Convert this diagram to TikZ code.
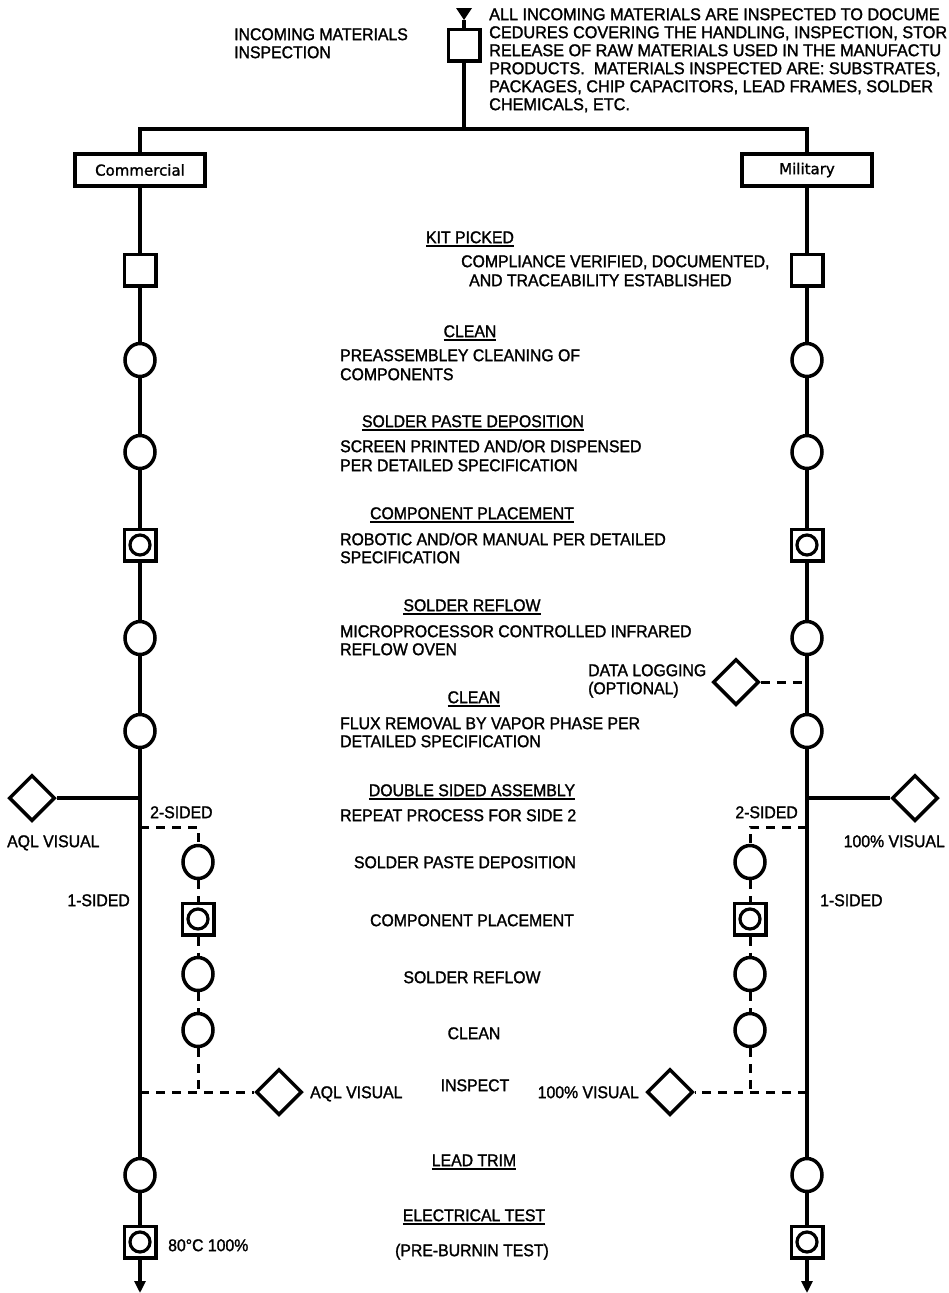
\documentclass[tikz,border=0pt]{standalone}
\usepackage{fontspec}
\newfontfamily\cadfont{Liberation Sans}[FakeStretch=0.93,FakeBold=1.5]
\newfontfamily\widecad{Liberation Sans}[FakeStretch=0.955,FakeBold=1.5]
\newfontfamily\boxfont{DejaVu Sans}[FakeBold=1.5]
\usetikzlibrary{shapes.geometric,arrows.meta}
\newcommand{\uln}[1]{\setbox0=\hbox{#1}\rlap{\rule[-4bp]{\wd0}{1.8bp}}\box0}
\begin{document}
\begin{tikzpicture}[x=1bp,y=-1bp,
 every node/.style={inner sep=0pt},
 txt/.style={font=\cadfont\fontsize{17bp}{18.5bp}\selectfont, text height=12.3bp, text depth=0bp},
 toptxt/.style={font=\widecad\fontsize{17bp}{18.5bp}\selectfont, text height=12.3bp, text depth=0bp},
 lbl/.style={font=\boxfont\fontsize{15bp}{18bp}\selectfont},
 proc/.style={draw, ellipse, line width=3.5bp, minimum width=30bp, minimum height=33bp, fill=white},
 sq/.style={draw, rectangle, line width=3.5bp, minimum size=31.5bp, fill=white},
 opsq/.style={sq, path picture={\draw[line width=3.2bp] (path picture bounding box.center) circle (10bp);}},
 dec/.style={draw, diamond, shape aspect=1, line width=3.5bp, minimum width=46bp, minimum height=46bp, fill=white},
 tag/.style={draw, rectangle, line width=3.5bp, minimum width=130bp, minimum height=32bp, lbl},
 flow/.style={line width=3.2bp},
 opt/.style={line width=3bp, dash pattern=on 9bp off 7bp},
 tip/.style={-{Triangle[width=11bp,length=12bp]}},
]
\useasboundingbox (0,0) rectangle (949,1293);

% ---------- top ----------
\node[sq] (inbox) at (464,45) {};
\coordinate (entry) at (464,20);
\fill (456,8) -- (472,8) -- (entry) -- cycle;
\draw[flow] (entry) -- (inbox);
\coordinate (topj) at (464,129);
\node[tag] (comm) at (140,170) {Commercial};
\node[tag] (mil) at (807,170) {Military};
\draw[flow] (inbox) -- (topj);
\draw[flow] (comm) |- (topj) -| (mil);

\node[txt, anchor=west] (tin1) at (234,34) {INCOMING MATERIALS};
\node[txt, anchor=west] (tin2) at (234,52) {INSPECTION};
\node[toptxt, anchor=west] (tl1) at (489,14) {ALL INCOMING MATERIALS ARE INSPECTED TO DOCUME};
\node[toptxt, anchor=west] (tl2) at (489,32) {CEDURES COVERING THE HANDLING, INSPECTION, STOR};
\node[toptxt, anchor=west] (tl3) at (489,50) {RELEASE OF RAW MATERIALS USED IN THE MANUFACTU};
\node[toptxt, anchor=west] (tl4) at (489,68) {PRODUCTS.\ \ MATERIALS INSPECTED ARE: SUBSTRATES,};
\node[toptxt, anchor=west] (tl5) at (489,86) {PACKAGES, CHIP CAPACITORS, LEAD FRAMES, SOLDER};
\node[toptxt, anchor=west] (tl6) at (489,104) {CHEMICALS, ETC.};

% ---------- left (commercial) spine ----------
\node[sq] (lk) at (140,270) {};
\node[proc] (lc1) at (140,360) {};
\node[proc] (lc2) at (140,452) {};
\node[opsq] (lp1) at (140,545) {};
\node[proc] (lc3) at (140,638) {};
\node[proc] (lc4) at (140,731) {};
\coordinate (lj) at (140,798);
\coordinate (l2s) at (140,827);
\coordinate (lins) at (140,1092);
\node[proc] (lc5) at (140,1175) {};
\node[opsq] (lp2) at (140,1242) {};
\coordinate (lend) at (140,1293);
\draw[flow] (comm) -- (lk) -- (lc1) -- (lc2) -- (lp1) -- (lc3) -- (lc4) -- (lc5) -- (lp2);
\draw[flow, tip] (lp2) -- (lend);

\node[dec] (laqlv) at (32,798) {};
\draw[flow] (laqlv) -- (lj);

\coordinate (lsc) at (198,827);
\node[proc] (ls1) at (198,862) {};
\node[opsq] (ls2) at (198,919) {};
\node[proc] (ls3) at (198,974) {};
\node[proc] (ls4) at (198,1030) {};
\coordinate (lsb) at (198,1092);
\node[dec] (laql) at (279,1092) {};
\draw[opt] (l2s) -- (lsc) -- (ls1) -- (ls2) -- (ls3) -- (ls4) -- (lsb);
\draw[opt] (lins) -- (laql);

% ---------- right (military) spine ----------
\node[sq] (rk) at (807,270) {};
\node[proc] (rc1) at (807,360) {};
\node[proc] (rc2) at (807,452) {};
\node[opsq] (rp1) at (807,545) {};
\node[proc] (rc3) at (807,638) {};
\node[proc] (rc4) at (807,731) {};
\coordinate (rdl) at (807,682);
\coordinate (rj) at (807,798);
\coordinate (r2s) at (807,827);
\coordinate (rins) at (807,1092);
\node[proc] (rc5) at (807,1175) {};
\node[opsq] (rp2) at (807,1242) {};
\coordinate (rend) at (807,1293);
\draw[flow] (mil) -- (rk) -- (rc1) -- (rc2) -- (rp1) -- (rc3) -- (rc4) -- (rc5) -- (rp2);
\draw[flow, tip] (rp2) -- (rend);

\node[dec] (dlog) at (736,682) {};
\draw[opt] (dlog) -- (rdl);

\node[dec] (r100) at (915,798) {};
\draw[flow] (r100) -- (rj);

\coordinate (rsc) at (750,827);
\node[proc] (rs1) at (750,862) {};
\node[opsq] (rs2) at (750,919) {};
\node[proc] (rs3) at (750,974) {};
\node[proc] (rs4) at (750,1030) {};
\coordinate (rsb) at (750,1092);
\node[dec] (rvis) at (670,1092) {};
\draw[opt] (r2s) -- (rsc) -- (rs1) -- (rs2) -- (rs3) -- (rs4) -- (rsb);
\draw[opt] (rins) -- (rvis);

% ---------- side labels ----------
\node[txt, anchor=west] (l2sl) at (150,812) {2-SIDED};
\node[txt, anchor=west] (laqll) at (7,841) {AQL VISUAL};
\node[txt, anchor=east] (l1sl) at (130,900) {1-SIDED};
\node[txt, anchor=east] (r2sl) at (798,812) {2-SIDED};
\node[txt, anchor=east] (r100l) at (945,841) {100\% VISUAL};
\node[txt, anchor=west] (r1sl) at (820,900) {1-SIDED};
\node[txt, anchor=west] (laqlb) at (310,1092) {AQL VISUAL};
\node[txt, anchor=east] (rvisl) at (639,1092) {100\% VISUAL};
\node[txt, anchor=west] (dlog1) at (588,670) {DATA LOGGING};
\node[txt, anchor=west] (dlog2) at (588,688) {(OPTIONAL)};
\node[txt, anchor=west] (degl) at (168,1245) {80°C 100\%};

% ---------- centre texts ----------
\node[txt] (h1) at (470,237) {\uln{KIT PICKED}};
\node[txt, anchor=west] (d1a) at (461,261) {COMPLIANCE VERIFIED, DOCUMENTED,};
\node[txt, anchor=west] (d1b) at (469,280) {AND TRACEABILITY ESTABLISHED};
\node[txt] (h2) at (470,331) {\uln{CLEAN}};
\node[txt, anchor=west] (d2a) at (340,355) {PREASSEMBLEY CLEANING OF};
\node[txt, anchor=west] (d2b) at (340,374) {COMPONENTS};
\node[txt] (h3) at (473,421) {\uln{SOLDER PASTE DEPOSITION}};
\node[txt, anchor=west] (d3a) at (340,446) {SCREEN PRINTED AND/OR DISPENSED};
\node[txt, anchor=west] (d3b) at (340,465) {PER DETAILED SPECIFICATION};
\node[txt] (h4) at (472,513) {\uln{COMPONENT PLACEMENT}};
\node[txt, anchor=west] (d4a) at (340,539) {ROBOTIC AND/OR MANUAL PER DETAILED};
\node[txt, anchor=west] (d4b) at (340,557) {SPECIFICATION};
\node[txt] (h5) at (472,605) {\uln{SOLDER REFLOW}};
\node[txt, anchor=west] (d5a) at (340,631) {MICROPROCESSOR CONTROLLED INFRARED};
\node[txt, anchor=west] (d5b) at (340,649) {REFLOW OVEN};
\node[txt] (h6) at (474,697) {\uln{CLEAN}};
\node[txt, anchor=west] (d6a) at (340,723) {FLUX REMOVAL BY VAPOR PHASE PER};
\node[txt, anchor=west] (d6b) at (340,741) {DETAILED SPECIFICATION};
\node[txt] (h7) at (472,790) {\uln{DOUBLE SIDED ASSEMBLY}};
\node[txt, anchor=west] (d7a) at (340,815) {REPEAT PROCESS FOR SIDE 2};
\node[txt] (s1t) at (465,862) {SOLDER PASTE DEPOSITION};
\node[txt] (s2t) at (472,920) {COMPONENT PLACEMENT};
\node[txt] (s3t) at (472,977) {SOLDER REFLOW};
\node[txt] (s4t) at (474,1033) {CLEAN};
\node[txt] (s5t) at (475,1085) {INSPECT};
\node[txt] (h8) at (474,1160) {\uln{LEAD TRIM}};
\node[txt] (h9) at (474,1215) {\uln{ELECTRICAL TEST}};
\node[txt] (d9) at (472,1250) {(PRE-BURNIN TEST)};
\end{tikzpicture}
\end{document}
